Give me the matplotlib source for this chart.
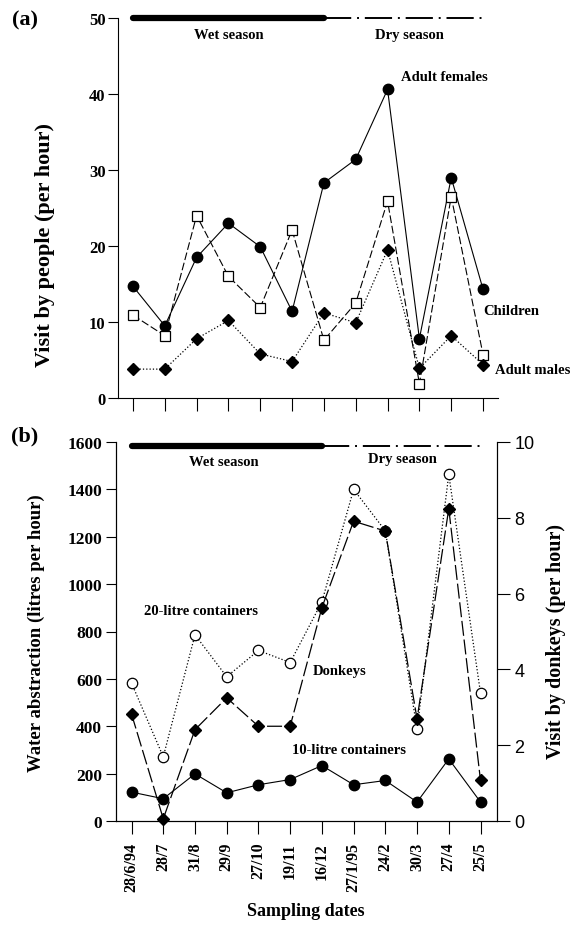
import matplotlib
matplotlib.use("Agg")
import matplotlib.pyplot as plt

plt.rcParams["font.family"] = ["Liberation Serif", "DejaVu Serif"]
plt.rcParams["font.weight"] = "bold"

# 採水日
dates = ["28/6/94", "28/7", "31/8", "29/9", "27/10", "19/11",
         "16/12", "27/1/95", "24/2", "30/3", "27/4", "25/5"]

# (a) 人の訪問数（1時間あたり）
adult_females = [14.7, 9.5, 18.5, 23.0, 19.9, 11.4, 28.3, 31.4, 40.6, 7.8, 29.0, 14.3]
children = [10.9, 8.2, 24.0, 16.0, 11.9, 22.1, 7.6, 12.5, 25.9, 1.9, 26.5, 5.7]
adult_males = [3.8, 3.8, 7.8, 10.2, 5.8, 4.8, 11.2, 9.9, 19.5, 3.9, 8.2, 4.4]

# (b) 取水量（リットル/時）とロバの訪問数
litre20 = [582, 271, 786, 609, 720, 669, 925, 1400, 1225, 388, 1463, 540]
litre10 = [122, 94, 199, 119, 153, 175, 234, 153, 171, 80, 262, 80]
donkeys = [2.82, 0.06, 2.41, 3.25, 2.5, 2.5, 5.63, 7.91, 7.65, 2.69, 8.24, 1.07]

# 季節区分（日付のインデックス）
wet_idx = list(range(0, 7))
dry_idx = list(range(6, 12))

x = list(range(len(dates)))

fig = plt.figure(figsize=(5.71, 9.28), dpi=100)

# ---- (a) ----
ax1 = fig.add_axes([118 / 571, 1 - 399 / 928, 380 / 571, 380 / 928])
ax1.plot(x, adult_females, "-", color="black", lw=0.8, marker="o", ms=7.5,
         mfc="black", mec="black")
ax1.plot(x, children, color="black", lw=0.8, dashes=(7, 2.5), marker="s", ms=7,
         mfc="white", mec="black", mew=0.9)
ax1.plot(x, adult_males, ":", color="black", lw=0.9, marker="D", ms=6.5,
         mfc="black", mec="black")

ax1.set_xlim(-0.47, 11.47)
ax1.set_ylim(0, 50)
ax1.set_yticks([0, 10, 20, 30, 40, 50])
ax1.set_xticks(x)
ax1.set_xticklabels([])
for s in ["top", "right"]:
    ax1.spines[s].set_visible(False)
ax1.tick_params(axis="x", direction="out", length=9, width=0.8)
ax1.tick_params(axis="y", direction="out", length=7, width=0.8, labelsize=12,
                pad=2)

# 季節バー
ax1.plot(wet_idx, [50] * len(wet_idx), color="black", lw=4.5,
         solid_capstyle="round", clip_on=False)
ax1.plot(dry_idx, [50] * len(dry_idx), color="black", lw=1.4,
         dashes=(14, 3, 1, 3), clip_on=False)
ax1.text(3.0, 47.8, "Wet season", ha="center", va="center", fontsize=10.5)
ax1.text(8.7, 47.8, "Dry season", ha="center", va="center", fontsize=10.5)

ax1.text(8.43, 42.3, "Adult females", ha="left", va="center", fontsize=10.5)
ax1.text(11.0, 11.5, "Children", ha="left", va="center", fontsize=10.5)
ax1.text(11.38, 3.8, "Adult males", ha="left", va="center", fontsize=10.5)

fig.text(45 / 571, 1 - 245 / 928, "Visit by people (per hour)", rotation=90,
         ha="center", va="center", fontsize=16)
fig.text(25 / 571, 1 - 20 / 928, "(a)", ha="center", va="center", fontsize=16)

# ---- (b) ----
ax2 = fig.add_axes([116 / 571, 1 - 822 / 928, 381 / 571, 379 / 928])
ax2r = ax2.twinx()

ax2.plot(x, litre20, ":", color="black", lw=0.9, marker="o", ms=7.5,
         mfc="white", mec="black", mew=0.9)
ax2.plot(x, litre10, "-", color="black", lw=0.8, marker="o", ms=7.5,
         mfc="black", mec="black")
ax2r.plot(x, donkeys, color="black", lw=0.9, dashes=(12, 3), marker="D", ms=6.5,
          mfc="black", mec="black", clip_on=False)

ax2.set_xlim(-0.49, 11.52)
ax2.set_ylim(0, 1600)
ax2r.set_ylim(0, 10)
ax2.set_yticks(range(0, 1601, 200))
ax2r.set_yticks(range(0, 11, 2))
ax2.set_xticks(x)
ax2.set_xticklabels(dates, rotation=90, fontsize=11.5)
ax2.spines["top"].set_visible(False)
ax2r.spines["top"].set_visible(False)
ax2.tick_params(axis="x", direction="out", length=9, width=0.8, pad=6)
ax2.tick_params(axis="y", direction="out", length=7, width=0.8, labelsize=12.5,
                pad=3)
ax2r.tick_params(axis="y", direction="out", length=9, width=0.8, labelsize=13)
for lab in ax2r.get_yticklabels():
    lab.set_fontfamily("Liberation Sans")
    lab.set_fontweight("normal")

ax2.plot(wet_idx, [1585] * len(wet_idx), color="black", lw=4.5,
         solid_capstyle="round", clip_on=False)
ax2.plot(dry_idx, [1585] * len(dry_idx), color="black", lw=1.4,
         dashes=(14, 3, 1, 3), clip_on=False)
ax2.text(2.9, 1518, "Wet season", ha="center", va="center", fontsize=10.5)
ax2.text(8.55, 1530, "Dry season", ha="center", va="center", fontsize=10.5)

ax2.text(0.38, 887, "20-litre containers", ha="left", va="center", fontsize=10.5)
ax2.text(5.72, 634, "Donkeys", ha="left", va="center", fontsize=10.5)
ax2.text(5.07, 301, "10-litre containers", ha="left", va="center", fontsize=10.5)

fig.text(36 / 571, 1 - 633 / 928, "Water abstraction (litres per hour)",
         rotation=90, ha="center", va="center", fontsize=13.5)
fig.text(556 / 571, 1 - 642 / 928, "Visit by donkeys (per hour)",
         rotation=90, ha="center", va="center", fontsize=14.5)
fig.text(306 / 571, 1 - 912 / 928, "Sampling dates", ha="center", va="center",
         fontsize=13)
fig.text(25 / 571, 1 - 436 / 928, "(b)", ha="center", va="center", fontsize=16)

fig.savefig("out.png", dpi=100)
